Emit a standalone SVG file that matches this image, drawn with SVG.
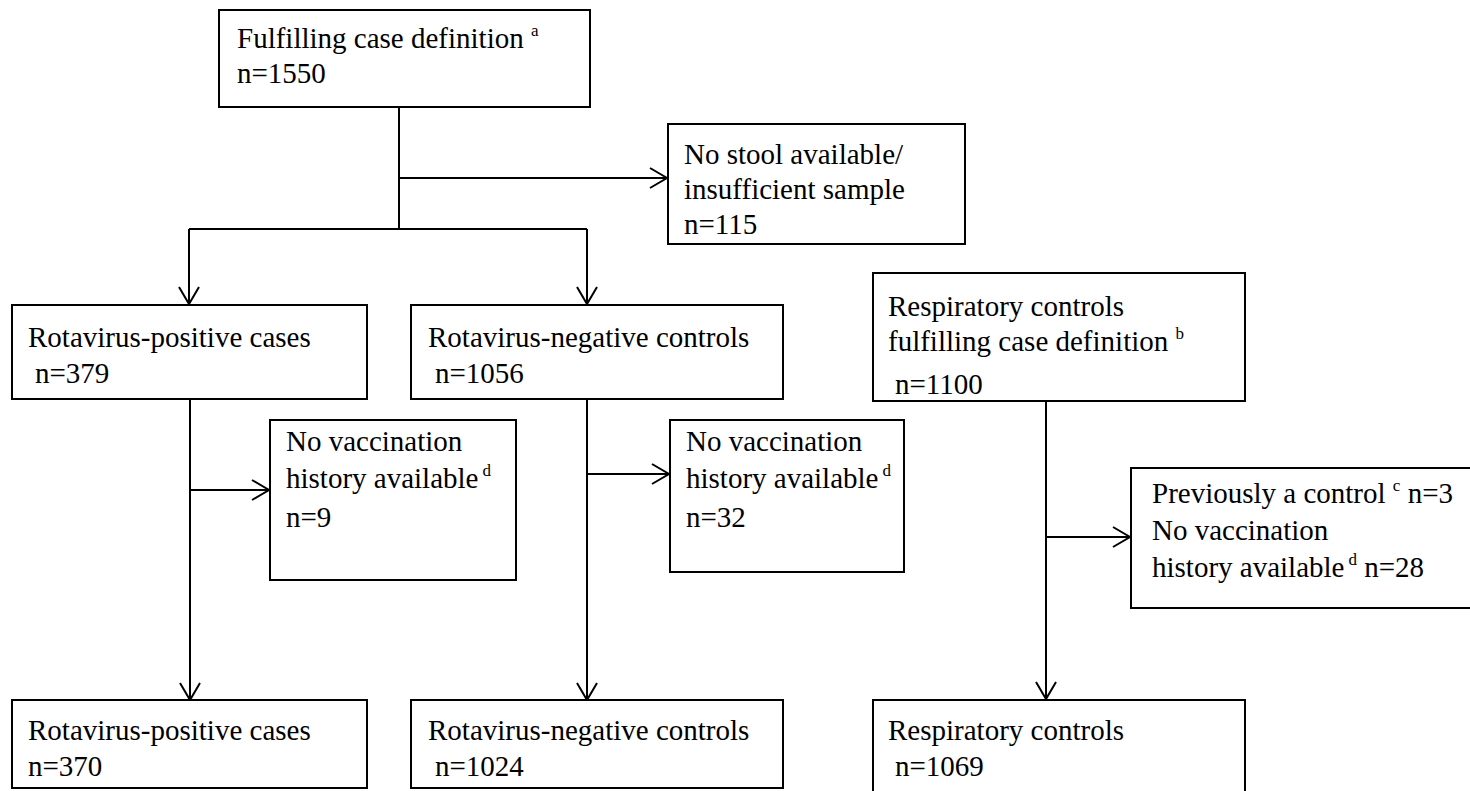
<svg xmlns="http://www.w3.org/2000/svg" width="1470" height="791" viewBox="0 0 1470 791">
<defs>
<style>
.box{fill:#fff;stroke:#000;stroke-width:2}
.t{font-family:'Liberation Serif',Tinos,'Times New Roman',Times,'DejaVu Serif','Noto Serif',serif;font-size:29px;fill:#000}
.sup{font-size:17px}
.ln{stroke:#000;stroke-width:2;fill:none}
</style>
<marker id="arr" markerUnits="userSpaceOnUse" markerWidth="22" markerHeight="26" refX="18" refY="12" orient="auto">
<path d="M1,2 L18,12 L1,22" fill="none" stroke="#000" stroke-width="2"/>
</marker>
</defs>
<rect width="1470" height="791" fill="#fff"/>
<g id="connectors">
<line class="ln" x1="399" y1="107" x2="399" y2="229"/>
<line class="ln" x1="399" y1="178" x2="667" y2="178" marker-end="url(#arr)"/>
<line class="ln" x1="189" y1="229" x2="587" y2="229"/>
<line class="ln" x1="189" y1="229" x2="189" y2="304" marker-end="url(#arr)"/>
<line class="ln" x1="587" y1="229" x2="587" y2="304" marker-end="url(#arr)"/>
<line class="ln" x1="190" y1="399" x2="190" y2="700" marker-end="url(#arr)"/>
<line class="ln" x1="190" y1="490" x2="269" y2="490" marker-end="url(#arr)"/>
<line class="ln" x1="587" y1="399" x2="587" y2="700" marker-end="url(#arr)"/>
<line class="ln" x1="587" y1="474" x2="669" y2="474" marker-end="url(#arr)"/>
<line class="ln" x1="1046" y1="401" x2="1046" y2="699" marker-end="url(#arr)"/>
<line class="ln" x1="1046" y1="537" x2="1130" y2="537" marker-end="url(#arr)"/>
</g>
<g id="n-total">
<rect class="box" x="219" y="10" width="371" height="97"/>
<text class="t" x="237" y="48">Fulfilling case definition <tspan class="sup" dy="-12">a</tspan></text>
<text class="t" x="237" y="83">n=1550</text>
</g>
<g id="n-nostool">
<rect class="box" x="668" y="124" width="297" height="120"/>
<text class="t" x="684" y="164">No stool available/</text>
<text class="t" x="684" y="199">insufficient sample</text>
<text class="t" x="684" y="234">n=115</text>
</g>
<g id="n-rotapos">
<rect class="box" x="12" y="305" width="355" height="94"/>
<text class="t" x="28" y="347">Rotavirus-positive cases</text>
<text class="t" x="35" y="383">n=379</text>
</g>
<g id="n-rotaneg">
<rect class="box" x="411" y="305" width="372" height="94"/>
<text class="t" x="428" y="347">Rotavirus-negative controls</text>
<text class="t" x="435" y="383">n=1056</text>
</g>
<g id="n-resp">
<rect class="box" x="873" y="273" width="372" height="128"/>
<text class="t" x="888" y="316">Respiratory controls</text>
<text class="t" x="888" y="351">fulfilling case definition <tspan class="sup" dy="-12">b</tspan></text>
<text class="t" x="895" y="394">n=1100</text>
</g>
<g id="n-novacc1">
<rect class="box" x="270" y="420" width="246" height="160"/>
<text class="t" x="286" y="451">No vaccination</text>
<text class="t" x="286" y="488">history available<tspan class="sup" dx="4" dy="-12">d</tspan></text>
<text class="t" x="286" y="527">n=9</text>
</g>
<g id="n-novacc2">
<rect class="box" x="670" y="420" width="234" height="152"/>
<text class="t" x="686" y="451">No vaccination</text>
<text class="t" x="686" y="488">history available<tspan class="sup" dx="4" dy="-12">d</tspan></text>
<text class="t" x="686" y="527">n=32</text>
</g>
<g id="n-respexcl">
<rect class="box" x="1131" y="468" width="360" height="140"/>
<text class="t" x="1152" y="503">Previously a control <tspan class="sup" dy="-12">c</tspan><tspan dy="12"> n=3</tspan></text>
<text class="t" x="1152" y="540">No vaccination</text>
<text class="t" x="1152" y="577">history available<tspan class="sup" dx="4" dy="-12">d</tspan><tspan dy="12"> n=28</tspan></text>
</g>
<g id="n-rotapos-final">
<rect class="box" x="12" y="700" width="355" height="88"/>
<text class="t" x="28" y="740">Rotavirus-positive cases</text>
<text class="t" x="28" y="776">n=370</text>
</g>
<g id="n-rotaneg-final">
<rect class="box" x="411" y="700" width="372" height="88"/>
<text class="t" x="428" y="740">Rotavirus-negative controls</text>
<text class="t" x="435" y="776">n=1024</text>
</g>
<g id="n-resp-final">
<rect class="box" x="873" y="700" width="372" height="100"/>
<text class="t" x="888" y="740">Respiratory controls</text>
<text class="t" x="895" y="776">n=1069</text>
</g>
</svg>
